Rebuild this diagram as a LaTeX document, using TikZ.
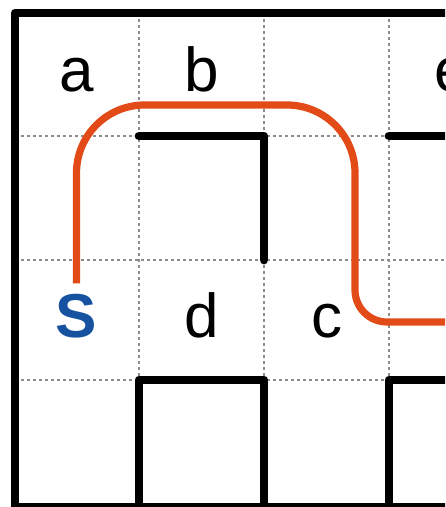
\documentclass[tikz,border=0pt]{standalone}
\usepackage{fontspec}
\setmainfont{Liberation Sans}
\usepackage{tikz}
\usetikzlibrary{positioning}
\definecolor{mazered}{RGB}{226,74,24}
\definecolor{mazeblue}{RGB}{22,82,160}
\definecolor{mazegray}{RGB}{140,140,140}
\begin{document}
\begin{tikzpicture}[
  x=0.5pt, y=-0.5pt,
  every node/.style={font=\fontsize{31}{31}\selectfont},
  gridline/.style={mazegray,line width=0.7pt,dash pattern=on 1.5pt off 1.5pt},
  wall/.style={line width=4.4pt,line cap=round,line join=round},
  route/.style={mazered,line width=3.6pt},
  cell/.style={anchor=base,inner sep=0pt}
]
\useasboundingbox (0,0) rectangle (445,507);
\clip (0,0) rectangle (445,507);

% Grid
\foreach \x in {139,264,389}
  \draw[gridline] (\x,13) -- (\x,505);
\foreach \y in {136,260,380}
  \draw[gridline] (15,\y) -- (460,\y);

% Walls
\draw[wall] (470,13) -- (15,13) -- (15,507) -- (470,507);
\draw[wall] (139,136) -- (264,136) -- (264,260);
\draw[wall] (389,136) -- (470,136);
\draw[wall] (139,507) -- (139,380) -- (264,380) -- (264,507);
\draw[wall] (389,507) -- (389,380) -- (470,380);

% Cell labels
\node[cell] (a) at (76.5,92)  {a};
\node[cell] (b) at (201.5,92) {b};
\node[cell] (e) at (451.5,92) {e};
\node[cell,inner sep=5pt,font=\fontsize{31}{31}\selectfont\bfseries,
  text=mazeblue] (S) at (76.5,337) {S};
\node[cell] (d) at (201.5,337) {d};
\node[cell] (c) at (326.5,337) {c};

% Route from S
\coordinate (turn) at (355,220);
\draw[route,rounded corners=34pt] (S.north) -- (76.5,105) -- (355,105)
  -- (turn);
\draw[route,rounded corners=16pt] (turn) -- (355,322) -- (470,322);
\end{tikzpicture}
\end{document}
